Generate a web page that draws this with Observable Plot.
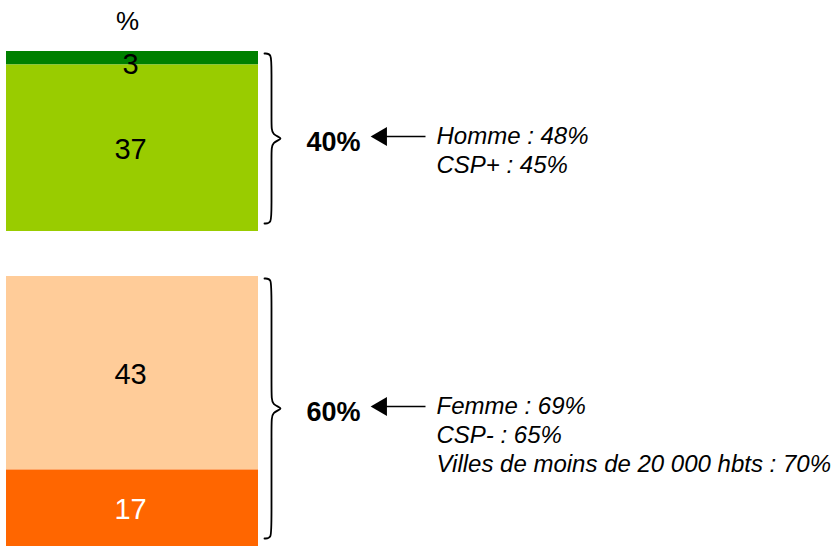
<!DOCTYPE html>
<html><head><meta charset="utf-8">
<script src="https://cdn.jsdelivr.net/npm/d3@7"></script>
<script src="https://cdn.jsdelivr.net/npm/@observablehq/plot@0.6"></script>
<style>body{margin:0;background:#fff} svg{display:block}</style>
</head><body><div id="chart"></div>
<script>
// ---- data ----
const segmentLabels = ["3", "37", "43", "17"];
const segmentValues = [3, 37, 43, 17];
const segmentGroups = [0, 0, 1, 1];
const segmentColors = ["#008000", "#99CC00", "#FFCC99", "#FF6600"];
const segmentTextColors = ["#000000", "#000000", "#000000", "#ffffff"];
const groupTotals = ["40%", "60%"];
const groupDetails = [
  ["Homme : 48%", "CSP+ : 45%"],
  ["Femme : 69%", "CSP- : 65%", "Villes de moins de 20 000 hbts : 70%"]
];
const unitLabel = "%";
const groupGap = 10;

// ---- layout ----
const W = 835, H = 548;
const barLeft = 6, barRight = 258, barMid = (barLeft + barRight) / 2;
const yTopPx = 51, yBotPx = 546;

// stack segments from the top, with a gap between groups
let pos = 0;
const segs = segmentValues.map((v, i) => {
  if (i > 0 && segmentGroups[i] !== segmentGroups[i - 1]) pos += groupGap;
  const d = {label: segmentLabels[i], value: v, group: segmentGroups[i],
             fill: segmentColors[i], textColor: segmentTextColors[i], y1: pos, y2: pos + v};
  pos += v;
  return d;
});
const total = pos;
const k = (yBotPx - yTopPx) / total; // px per unit

const groups = groupTotals.map((t, g) => {
  const s = segs.filter(d => d.group === g);
  const y1 = s[0].y1, y2 = s[s.length - 1].y2;
  return {total: t, details: groupDetails[g].join("\n"), y1, y2, yc: (y1 + y2) / 2};
});

// curly braces
const xH = 264, xV = 271, xT = 280;
const xTc = (6 * xT - 2 * xV) / 4;
const braces = [];
groups.forEach((g, gi) => {
  const t = g.y1 + 2 / k, b = g.y2 - 8 / k, m = (t + b) / 2, c = 7 / k;
  const pts = [
    [xH, t], [xV, t], [xV, t + 2 * c], [xV, m - 2 * c], [xV, m - c * 0.5],
    [xTc, m],
    [xV, m + c * 0.5], [xV, m + 2 * c], [xV, b - 2 * c], [xV, b], [xH, b]
  ];
  pts.forEach(([x, y]) => braces.push({g: gi, x, y}));
});

const font = "Arial, 'Liberation Sans', sans-serif";

const chart = Plot.plot({
  width: W, height: H,
  marginTop: 0, marginBottom: 0, marginLeft: 0, marginRight: 0,
  style: {fontFamily: font, background: "#fff"},
  x: {type: "linear", domain: [0, W], range: [0, W], axis: null},
  y: {type: "linear", domain: [0, total], range: [yTopPx, yBotPx], axis: null},
  marks: [
    Plot.rect(segs, {x1: () => barLeft, x2: () => barRight, y1: "y1", y2: "y2", fill: "fill"}),
    Plot.text(segs.filter(d => d.value >= 5), {
      x: () => barMid - 2, y: d => (d.y1 + d.y2) / 2, text: "label", fill: "textColor",
      fontSize: 29, lineAnchor: "middle", dy: 1
    }),
    Plot.text(segs.filter(d => d.value < 5), {
      x: () => barMid - 2, y: "y1", text: "label", fill: "textColor",
      fontSize: 29, lineAnchor: "top", dy: 2
    }),
    Plot.text([unitLabel], {x: () => 127, y: () => 0, text: d => d, fontSize: 26, dy: -30, lineAnchor: "middle"}),
    Plot.line(braces, {x: "x", y: "y", z: "g", curve: "basis", stroke: "#000", strokeWidth: 1.8}),
    Plot.text(groups, {x: () => 306, y: "yc", text: "total", fontSize: 27, fontWeight: "bold",
      textAnchor: "start", lineAnchor: "middle", dy: 1}),
    Plot.link(groups, {x1: () => 425, x2: () => 384, y1: "yc", y2: "yc", dy: -5, stroke: "#000", strokeWidth: 1.5}),
    Plot.dot(groups, {x: () => 381, y: "yc", dy: -5, symbol: "triangle", r: 7, fill: "#000", stroke: "none", rotate: -90}),
    Plot.text(groups, {x: () => 436, y: "yc", text: "details", fontSize: 24, fontStyle: "italic",
      textAnchor: "start", lineAnchor: "top", lineHeight: 1.2, dy: -18})
  ]
});
document.getElementById("chart").appendChild(chart);
</script>
</body></html>
